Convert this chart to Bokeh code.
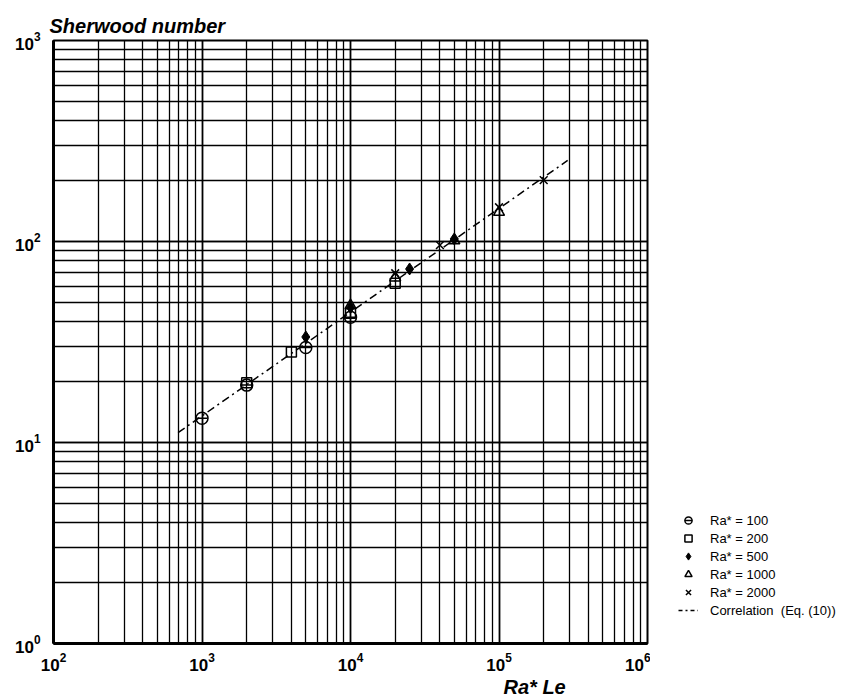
from bokeh.plotting import figure
from bokeh.models import Legend, LegendItem, Title, Range1d
from bokeh.layouts import row
from bokeh.embed import file_html
from bokeh.resources import INLINE

# Data
ra100_x = [1000, 2000, 5000, 10000]
ra100_y = [13.2, 19.3, 29.7, 42.0]
ra200_x = [2000, 4000, 10000, 20000]
ra200_y = [19.8, 28.2, 44.0, 62.0]
ra500_x = [5000, 10000, 25000, 50000]
ra500_y = [33.5, 47.0, 73.0, 103.0]
ra1000_x = [10000, 20000, 50000, 100000]
ra1000_y = [48.0, 66.0, 101.0, 140.0]
ra2000_x = [20000, 40000, 100000, 200000]
ra2000_y = [69.5, 96.0, 148.0, 202.0]
corr_x = [690, 290000]
corr_y = [11.2, 253.0]

labels = ["Ra* = 100", "Ra* = 200", "Ra* = 500", "Ra* = 1000", "Ra* = 2000",
          "Correlation  (Eq. (10))"]

FONT = "Liberation Sans"

p = figure(width=650, height=698, x_axis_type="log", y_axis_type="log",
           x_range=(1e2, 1e6), y_range=(1, 1e3),
           output_backend="svg", toolbar_location=None,
           min_border_left=53, min_border_right=3, min_border_top=40,
           min_border_bottom=55)

p.title.text = "Sherwood number"
p.title.text_font = FONT
p.title.text_font_style = "bold italic"
p.title.text_font_size = "20px"
p.title.text_color = "black"
p.title.align = "left"
p.title.offset = -4
p.title.standoff = 8

p.outline_line_color = "black"
p.outline_line_width = 2
p.background_fill_color = "white"
p.border_fill_color = "white"

for ax in (p.xaxis, p.yaxis):
    ax.axis_line_width = 3
    ax.axis_line_color = "black"
    ax.major_tick_in = 0
    ax.major_tick_out = 0
    ax.minor_tick_in = 0
    ax.minor_tick_out = 0
    ax.major_label_text_font = FONT
    ax.major_label_text_font_style = "bold"
    ax.major_label_text_font_size = "17px"
    ax.major_label_text_color = "black"
p.yaxis.major_label_standoff = 13
p.xaxis.major_label_standoff = 9

for g in (p.xgrid, p.ygrid):
    g.grid_line_color = "black"
    g.grid_line_width = 1.6
    g.minor_grid_line_color = "black"
    g.minor_grid_line_width = 1.3

xlab = Title(text="Ra* Le", align="left", offset=450, text_font=FONT,
             text_font_style="bold italic", text_font_size="20px",
             text_color="black", standoff=0)
p.add_layout(xlab, "below")

STY = dict(line_color="black", line_width=1.5)

p.line(corr_x, corr_y, line_dash="8 4 2 4", **STY)
p.scatter(ra100_x, ra100_y, marker="circle", size=12, fill_color=None, **STY)
p.scatter(ra100_x, ra100_y, marker="dash", size=11, **STY)
p.scatter(ra200_x, ra200_y, marker="square", size=10, fill_color=None, **STY)
p.scatter(ra500_x, ra500_y, marker="diamond", size=12, fill_color="black",
          line_color="black", line_width=1)
p.scatter(ra1000_x, ra1000_y, marker="triangle", size=11, fill_color=None, **STY)
p.scatter(ra2000_x, ra2000_y, marker="x", size=11, **STY)

# Legend panel (separate figure to the right of the plot frame)
q = figure(width=207, height=698, output_backend="svg", toolbar_location=None,
           x_axis_location=None, y_axis_location=None,
           x_range=Range1d(0, 1), y_range=Range1d(0, 1),
           min_border_left=0, min_border_right=0, min_border_top=0,
           min_border_bottom=0)
q.outline_line_color = None
q.xgrid.visible = False
q.ygrid.visible = False
q.background_fill_color = "white"
q.border_fill_color = "white"

# legend-key renderers (placed outside the visible range; only their keys show)
K = [-5]
l1a = q.scatter(K, K, marker="circle", size=10, fill_color=None, **STY)
l1b = q.scatter(K, K, marker="dash", size=10, **STY)
l2 = q.scatter(K, K, marker="square", size=9, fill_color=None, **STY)
l5 = q.scatter(K, K, marker="diamond", size=10, fill_color="black",
               line_color="black", line_width=1)
l10 = q.scatter(K, K, marker="triangle", size=9, fill_color=None, **STY)
l20 = q.scatter(K, K, marker="x", size=9, **STY)
lc = q.line([-5, -4], [-5, -4], line_dash="4 3 2 3", **STY)

items = [LegendItem(label=labels[0], renderers=[l1a, l1b]),
         LegendItem(label=labels[1], renderers=[l2]),
         LegendItem(label=labels[2], renderers=[l5]),
         LegendItem(label=labels[3], renderers=[l10]),
         LegendItem(label=labels[4], renderers=[l20]),
         LegendItem(label=labels[5], renderers=[lc])]
legend = Legend(items=items, location=(28, 24), border_line_color=None,
                background_fill_alpha=0, padding=0, margin=0, spacing=0,
                glyph_width=20, glyph_height=18, label_height=18,
                label_standoff=12, label_text_font=FONT,
                label_text_font_size="13px", label_text_color="black")
q.add_layout(legend, "center")

layout = row(p, q, spacing=0)
open("out.html", "w").write(file_html(layout, INLINE))
